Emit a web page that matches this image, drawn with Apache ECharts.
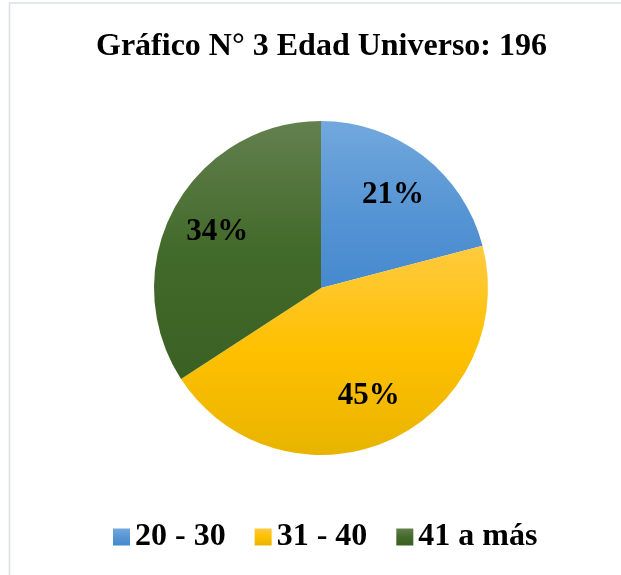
<!DOCTYPE html>
<html>
<head>
<meta charset="utf-8">
<script src="https://cdn.jsdelivr.net/npm/echarts@6/dist/echarts.min.js"></script>
<style>
	html,body{margin:0;padding:0;background:#fff}
	#chart{width:621px;height:575px}
</style>
</head>
<body>
<div id="chart"></div>
<script>
// datos (universo 196)
const categorias = ["20 - 30", "31 - 40", "41 a más"]
const valores = [41, 88, 67]
const coloresArriba = ["#72a8de", "#ffca3f", "#63804f"]
const coloresMedio = ["#5896d4", "#ffc000", "#426a2a"]
const coloresAbajo = ["#4589cf", "#e8b400", "#3b6024"]

const serif = "'Liberation Serif', 'Times New Roman', serif"

function degradado(i){
	return new echarts.graphic.LinearGradient(0, 0, 0, 1, [
		{offset: 0, color: coloresArriba[i]},
		{offset: 0.5, color: coloresMedio[i]},
		{offset: 1, color: coloresAbajo[i]}
	])
}

const datos = categorias.map((name, i) => ({
	name: name,
	value: valores[i],
	itemStyle: {color: degradado(i)}
}))

const chart = echarts.init(document.getElementById("chart"))
chart.setOption({
	animation: false,
	graphic: [{
		type: "rect",
		shape: {x: 9.5, y: 3, width: 700, height: 700},
		style: {fill: "none", stroke: "#dadee6", lineWidth: 1.5},
		silent: true
	}],
	title: {
		text: "Gráfico N° 3 Edad Universo: 196",
		left: 91,
		top: 26,
		textStyle: {fontFamily: serif, fontWeight: "bold", fontSize: 32, color: "#000"}
	},
	legend: {
		left: 108,
		top: 516,
		icon: "rect",
		itemWidth: 17,
		itemHeight: 17,
		itemGap: 29,
		textStyle: {fontFamily: serif, fontWeight: "bold", fontSize: 32, color: "#000"},
		data: categorias
	},
	series: [
		{
			type: "pie",
			center: [321, 288],
			radius: [0, 167],
			startAngle: 90,
			clockwise: true,
			silent: true,
			label: {show: false},
			labelLine: {show: false},
			data: datos
		},
		{
			// serie solo para colocar las etiquetas a ~70% del radio
			type: "pie",
			center: [321, 288],
			radius: [63, 167],
			startAngle: 90,
			clockwise: true,
			silent: true,
			itemStyle: {color: "transparent"},
			label: {
				show: true,
				position: "inside",
				formatter: p => Math.round(p.percent) + "%",
				fontFamily: serif,
				fontWeight: "bold",
				fontSize: 31,
				color: "#000"
			},
			labelLine: {show: false},
			data: categorias.map((name, i) => ({name: name, value: valores[i]}))
		}
	]
})
</script>
</body>
</html>
